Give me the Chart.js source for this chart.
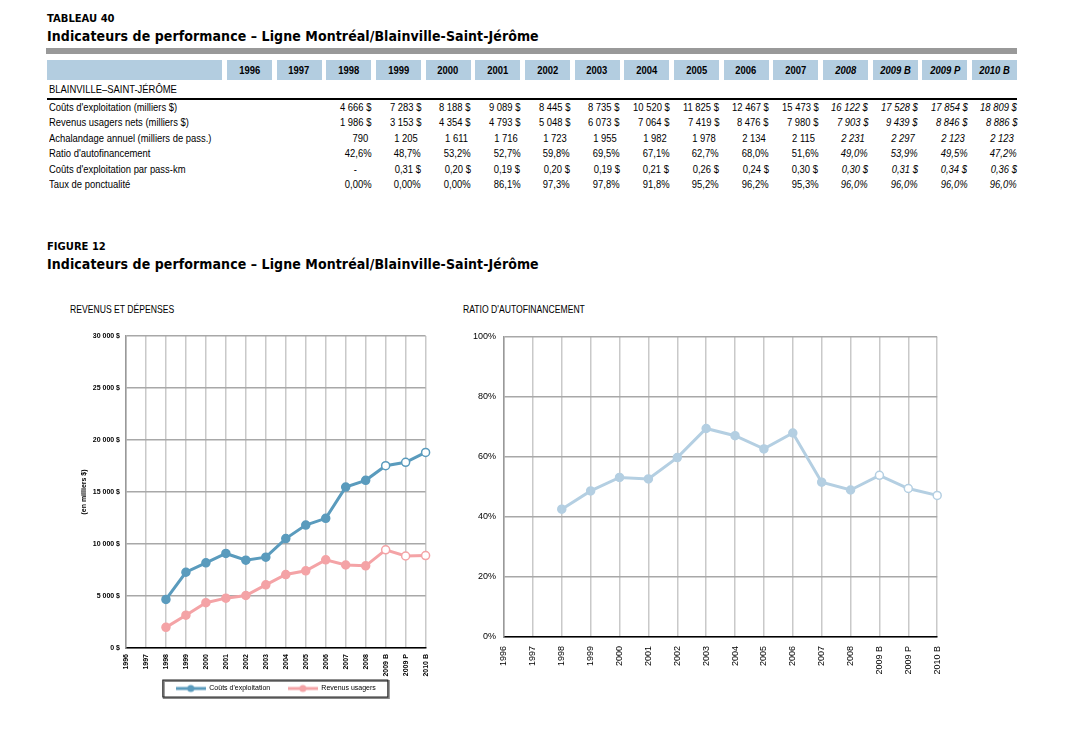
<!DOCTYPE html>
<html lang="fr">
<head>
<meta charset="utf-8">
<title>Indicateurs de performance – Ligne Montréal/Blainville-Saint-Jérôme</title>
<script src="https://cdn.jsdelivr.net/npm/chart.js@4.4.1/dist/chart.umd.min.js"></script>
<style>
  body { margin: 0; background: #fff; width: 1069px; height: 735px; position: relative; overflow: hidden;
         font-family: 'Liberation Sans', Arial, sans-serif; color: #000; }
  .abs { position: absolute; white-space: nowrap; }
  .etroit { display: inline-block; transform: scaleX(0.82); }
  .petit-titre { font-family: 'DejaVu Sans', sans-serif; font-weight: bold; font-size: 10px; }
  .grand-titre { font-family: 'DejaVu Sans Condensed', 'DejaVu Sans', sans-serif; font-weight: bold; font-size: 14px; letter-spacing: 0.08px; }
  .entete { background: #b3cde0; height: 20px; line-height: 20px; font-weight: bold; font-size: 11.5px; text-align: center; }
  .cell { font-size: 11.5px; height: 14px; line-height: 14px; }
  .sous-titre { font-size: 10.5px; }
  canvas { position: absolute; }
</style>
</head>
<body>

<div class="abs petit-titre" style="left:47px; top:13px;">TABLEAU 40</div>
<div class="abs grand-titre" style="left:47px; top:28px;">Indicateurs de performance – Ligne Montréal/Blainville-Saint-Jérôme</div>
<div class="abs" style="left:46px; top:48px; width:971px; height:6px; background:#999;"></div>

<div id="tableau"></div>

<div class="abs petit-titre" style="left:47px; top:241px;">FIGURE 12</div>
<div class="abs grand-titre" style="left:47px; top:256px;">Indicateurs de performance – Ligne Montréal/Blainville-Saint-Jérôme</div>

<div class="abs sous-titre" style="left:70px; top:303px;"><span class="etroit" style="transform-origin:left;">REVENUS ET DÉPENSES</span></div>
<div class="abs sous-titre" style="left:463px; top:303px;"><span class="etroit" style="transform-origin:left;">RATIO D'AUTOFINANCEMENT</span></div>

<canvas id="graphRevenus" width="380" height="386" style="left:60px; top:320px;"></canvas>
<canvas id="graphRatio" width="507" height="380" style="left:450px; top:320px;"></canvas>

<script>
// Années (B = budget, P = prévision)
const annees = ["1996", "1997", "1998", "1999", "2000", "2001", "2002", "2003", "2004",
  "2005", "2006", "2007", "2008", "2009 B", "2009 P", "2010 B"];

// Coûts d'exploitation (milliers $)
const couts = [null, null, 4666, 7283, 8188, 9089, 8445, 8735, 10520, 11825, 12467, 15473, 16122, 17528, 17854, 18809];
// Revenus usagers nets (milliers $)
const revenus = [null, null, 1986, 3153, 4354, 4793, 5048, 6073, 7064, 7419, 8476, 7980, 7903, 9439, 8846, 8886];
// Achalandage annuel (milliers de pass.)
const achalandage = [null, null, 790, 1205, 1611, 1716, 1723, 1955, 1982, 1978, 2134, 2115, 2231, 2297, 2123, 2123];
// Ratio d'autofinancement (%)
const ratio = [null, null, 42.6, 48.7, 53.2, 52.7, 59.8, 69.5, 67.1, 62.7, 68.0, 51.6, 49.0, 53.9, 49.5, 47.2];
// Coûts d'exploitation par pass-km ($)
const coutPassKm = [null, null, null, 0.31, 0.20, 0.19, 0.20, 0.19, 0.21, 0.26, 0.24, 0.30, 0.30, 0.31, 0.34, 0.36];
// Taux de ponctualité (%)
const ponctualite = [null, null, 0, 0, 0, 86.1, 97.3, 97.8, 91.8, 95.2, 96.2, 95.3, 96.0, 96.0, 96.0, 96.0];

const premiereProjection = 13; // 2009 B et suivantes : marqueurs creux
const premiereItalique = 12;   // 2008 et suivantes : italique dans le tableau

const bleu = "#5a9bbd";
const rose = "#f4a3a6";
const bleuPale = "#b4cfe2";

function milliers(v) {
  return String(v).replace(/\B(?=(\d{3})+(?!\d))/g, " ");
}
function virgule(v, d) {
  return v.toFixed(d).replace(".", ",");
}

// ---- Tableau ----
const tableau = document.getElementById("tableau");
const pas = 49.67;
const colX = (i) => 227 + i * pas;

function ajoute(texte, style, cls, origine) {
  const d = document.createElement("div");
  d.className = "abs " + (cls || "");
  d.style.cssText = style;
  if (texte) {
    const s = document.createElement("span");
    s.className = "etroit";
    s.style.transformOrigin = origine || "left";
    s.textContent = texte;
    d.appendChild(s);
  }
  tableau.appendChild(d);
  return d;
}

ajoute("", "left:47px; top:60px; width:175px;", "entete");
annees.forEach((a, i) => {
  const d = ajoute(a, `left:${colX(i)}px; top:60px; width:45px;`, "entete", "center");
  if (i >= premiereItalique) d.style.fontStyle = "italic";
});
ajoute("BLAINVILLE–SAINT-JÉRÔME", "left:49px; top:82px;", "cell");
ajoute("", "left:47px; top:98px; width:970px; height:2px; background:#000;");

const lignes = [
  ["Coûts d'exploitation (milliers $)", couts.map((v) => v == null ? "" : milliers(v) + " $"), 0],
  ["Revenus usagers nets (milliers $)", revenus.map((v) => v == null ? "" : milliers(v) + " $"), 0],
  ["Achalandage annuel (milliers de pass.)", achalandage.map((v) => v == null ? "" : milliers(v)), 3],
  ["Ratio d'autofinancement", ratio.map((v) => v == null ? "" : virgule(v, 1) + "%"), 0],
  ["Coûts d'exploitation par pass-km", coutPassKm.map((v, i) => i < 2 ? "" : v == null ? "-" : virgule(v, 2) + " $"), 0],
  ["Taux de ponctualité", ponctualite.map((v) => v == null ? "" : v === 0 ? "0,00%" : virgule(v, 1) + "%"), 0],
];
const lignesY = [100, 115, 131, 146, 162, 177];

lignes.forEach((ligne, r) => {
  ajoute(ligne[0], `left:49px; top:${lignesY[r]}px;`, "cell");
  ligne[1].forEach((txt, i) => {
    if (!txt) return;
    const marge = txt === "-" ? 14 : ligne[2];
    const d = ajoute(txt, `left:${colX(i) - 10}px; top:${lignesY[r]}px; width:${55 - marge}px; text-align:right;`, "cell", "right");
    if (i >= premiereItalique) d.style.fontStyle = "italic";
  });
});

// ---- Graphiques ----
function marqueur(couleur) {
  const c = document.createElement("canvas");
  c.width = 30; c.height = 10;
  const g = c.getContext("2d");
  g.strokeStyle = couleur; g.fillStyle = couleur; g.lineWidth = 3;
  g.beginPath(); g.moveTo(0, 5); g.lineTo(30, 5); g.stroke();
  g.beginPath(); g.arc(15, 5, 3.5, 0, Math.PI * 2); g.fill();
  return c;
}

const remplissage = (couleur) => annees.map((a, i) => i >= premiereProjection ? "#fff" : couleur);

const cadreLegende = {
  id: "cadreLegende",
  afterDraw(chart) {
    const boites = chart.legend && chart.legend.legendHitBoxes;
    if (!boites || !boites.length) return;
    const g = chart.ctx;
    const gauche = boites[0].left - 13;
    const derniere = boites[boites.length - 1];
    const droite = derniere.left + derniere.width + 12;
    const haut = boites[0].top - 5;
    const bas = boites[0].top + boites[0].height + 5;
    g.save();
    g.strokeStyle = "#888";
    g.lineWidth = 2;
    g.strokeRect(gauche + 1, haut + 1, droite - gauche, bas - haut);
    g.strokeStyle = "#222";
    g.lineWidth = 1;
    g.strokeRect(gauche, haut, droite - gauche, bas - haut);
    g.restore();
  }
};

const policeEtroite = "'Liberation Sans Narrow', 'Liberation Sans', Arial, sans-serif";

new Chart(document.getElementById("graphRevenus"), {
  type: "line",
  data: {
    labels: annees,
    datasets: [
      {
        label: "Coûts d'exploitation",
        data: couts,
        borderColor: bleu,
        backgroundColor: bleu,
        borderWidth: 3,
        pointRadius: 4,
        pointBorderWidth: 1.5,
        pointBorderColor: bleu,
        pointBackgroundColor: remplissage(bleu),
      },
      {
        label: "Revenus usagers",
        data: revenus,
        borderColor: rose,
        backgroundColor: rose,
        borderWidth: 3,
        pointRadius: 4,
        pointBorderWidth: 1.5,
        pointBorderColor: rose,
        pointBackgroundColor: remplissage(rose),
      },
    ],
  },
  options: {
    responsive: false,
    animation: false,
    layout: { padding: { top: 16, right: 12, left: 0, bottom: 4 } },
    scales: {
      x: {
        grid: { color: "#c9c9c9", lineWidth: 1.5, drawTicks: false },
        border: { color: "#000", width: 1.5 },
        ticks: {
          color: "#000", padding: 6, autoSkip: false, maxRotation: 90, minRotation: 90,
          font: { family: policeEtroite, size: 7, weight: "bold" },
        },
        afterFit(scale) { scale.height = 31; },
      },
      y: {
        min: 0,
        max: 30000,
        grid: { color: "#a8a8a8", lineWidth: 1.5, drawTicks: false },
        border: { color: "#999", width: 1.5 },
        ticks: {
          stepSize: 5000, color: "#000", padding: 6,
          font: { family: policeEtroite, size: 7, weight: "bold" },
          callback: (v) => milliers(v) + " $",
        },
        title: {
          display: true, text: "(en milliers $)", color: "#000",
          font: { family: policeEtroite, size: 7, weight: "bold" },
          padding: { top: 20, bottom: 0 },
        },
        afterFit(scale) { scale.width = 66; },
      },
    },
    plugins: {
      tooltip: { enabled: false },
      legend: {
        position: "bottom",
        fullSize: false,
        labels: {
          usePointStyle: true,
          pointStyleWidth: 30,
          padding: 6,
          color: "#000",
          font: { family: policeEtroite, size: 7 },
          generateLabels(chart) {
            const n = chart.data.datasets.length;
            return chart.data.datasets.map((ds, i) => ({
              // espaces insécables : écart entre les deux entrées
              text: i < n - 1 ? ds.label + "\u00a0\u00a0\u00a0\u00a0\u00a0\u00a0" : ds.label,
              datasetIndex: i,
              pointStyle: marqueur(ds.borderColor),
              fillStyle: ds.borderColor,
              strokeStyle: ds.borderColor,
              lineWidth: 0,
              hidden: false,
              fontColor: "#000",
            }));
          },
        },
      },
    },
  },
  plugins: [cadreLegende],
});

new Chart(document.getElementById("graphRatio"), {
  type: "line",
  data: {
    labels: annees,
    datasets: [
      {
        label: "Ratio d'autofinancement",
        data: ratio,
        borderColor: bleuPale,
        backgroundColor: bleuPale,
        borderWidth: 3,
        pointRadius: 4,
        pointBorderWidth: 1.5,
        pointBorderColor: bleuPale,
        pointBackgroundColor: remplissage(bleuPale),
      },
    ],
  },
  options: {
    responsive: false,
    animation: false,
    layout: { padding: { top: 17, right: 13, left: 0, bottom: 0 } },
    scales: {
      x: {
        grid: { color: "#c9c9c9", lineWidth: 1.5, drawTicks: false },
        border: { color: "#000", width: 1.5 },
        ticks: {
          color: "#000", padding: 9, autoSkip: false, maxRotation: 90, minRotation: 90,
          font: { family: "'Liberation Sans', Arial, sans-serif", size: 9 },
        },
        afterFit(scale) { scale.height = 63; },
      },
      y: {
        min: 0,
        max: 100,
        grid: { color: "#a8a8a8", lineWidth: 1.5, drawTicks: false },
        border: { color: "#999", width: 1.5 },
        ticks: {
          stepSize: 20, color: "#000", padding: 8,
          font: { family: "'Liberation Sans', Arial, sans-serif", size: 9 },
          callback: (v) => v + "%",
        },
        afterFit(scale) { scale.width = 54; },
      },
    },
    plugins: {
      tooltip: { enabled: false },
      legend: { display: false },
    },
  },
});
</script>
</body>
</html>
